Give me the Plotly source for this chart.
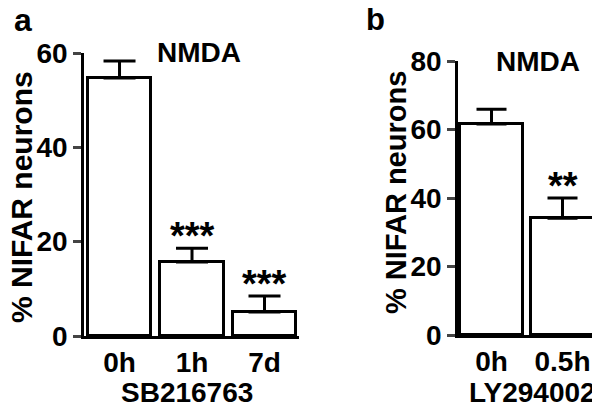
import plotly.graph_objects as go

OFF = 8            # page body margin of the browser
W, H = 600 - OFF, 403 - OFF

# ---- data ----
a_categories = ["0h", "1h", "7d"]
a_values = [54.7, 15.7, 5.1]
a_errors = [3.6, 2.9, 3.4]
a_stars = ["", "***", "***"]
a_yticks = [0, 20, 40, 60]

b_categories = ["0h", "0.5h"]
b_values = [61.6, 34.1]
b_errors = [4.3, 5.9]
b_stars = ["", "**"]
b_yticks = [0, 20, 40, 60, 80]

FONT = "Liberation Sans"

def px_x(x):
    return (x - OFF) / W

def px_y(y):
    return 1 - (y - OFF) / H

fig = go.Figure()

fig.add_trace(go.Bar(
    x=list(range(len(a_categories))), y=a_values, width=0.88,
    marker=dict(color="white", line=dict(color="black", width=3)),
    error_y=dict(type="data", array=a_errors, arrayminus=[0]*len(a_errors), symmetric=False,
                 color="black", thickness=3, width=16),
    xaxis="x", yaxis="y", showlegend=False))

fig.add_trace(go.Bar(
    x=list(range(len(b_categories))), y=b_values, width=0.89,
    marker=dict(color="white", line=dict(color="black", width=3)),
    error_y=dict(type="data", array=b_errors, arrayminus=[0]*len(b_errors), symmetric=False,
                 color="black", thickness=3, width=15),
    xaxis="x2", yaxis="y2", showlegend=False))

axis_common = dict(showline=True, linecolor="black", linewidth=2.5, showgrid=False, zeroline=False,
                   automargin=False,
                   tickfont=dict(family=FONT, size=28, color="black", weight="bold"))

fig.update_layout(
    width=W, height=H, margin=dict(l=0, r=0, t=0, b=0),
    paper_bgcolor="white", plot_bgcolor="white", bargap=0,
    xaxis=dict(domain=[px_x(84), px_x(299)], range=[-0.49, 2.476], anchor="y",
               tickvals=list(range(len(a_categories))), ticktext=a_categories, ticks="",
               **axis_common),
    yaxis=dict(domain=[px_y(336), px_y(53)], range=[0, 60], anchor="x",
               tickvals=a_yticks, ticks="outside", ticklen=8, tickwidth=2.5, **axis_common),
    xaxis2=dict(domain=[px_x(458), px_x(598)], range=[-0.472, 1.5], anchor="y2",
                tickvals=list(range(len(b_categories))), ticktext=b_categories, ticks="",
                **axis_common),
    yaxis2=dict(domain=[px_y(335), px_y(61)], range=[0, 80], anchor="x2",
                tickvals=b_yticks, ticks="outside", ticklen=8, tickwidth=2.5, **axis_common),
)

ann = []
def txt(x, y, s, size, angle=0):
    ann.append(dict(x=px_x(x), y=px_y(y), xref="paper", yref="paper", text=s, showarrow=False,
                    textangle=angle, xanchor="center", yanchor="middle",
                    font=dict(family=FONT, size=size, color="black", weight="bold")))

txt(23, 20, "a", 32)
txt(375, 19, "b", 31)
txt(199, 53, "NMDA", 28)
txt(538, 61, "NMDA", 28)
txt(21, 197, "% NIFAR neurons", 30, -90)
txt(396, 193, "% NIFAR neurons", 29, -90)
txt(187, 392, "SB216763", 28)
txt(532, 392, "LY294002", 28)

for i, s in enumerate(a_stars):
    if s:
        ann.append(dict(x=i, y=a_values[i] + a_errors[i], xref="x", yref="y", text=s, showarrow=False,
                        xanchor="center", yanchor="bottom", yshift=-11,
                        font=dict(family=FONT, size=38, color="black", weight="bold")))
for i, s in enumerate(b_stars):
    if s:
        ann.append(dict(x=i, y=b_values[i] + b_errors[i], xref="x2", yref="y2", text=s, showarrow=False,
                        xanchor="center", yanchor="bottom", yshift=-11,
                        font=dict(family=FONT, size=38, color="black", weight="bold")))

fig.update_layout(annotations=ann)
fig.write_html("out.html")
